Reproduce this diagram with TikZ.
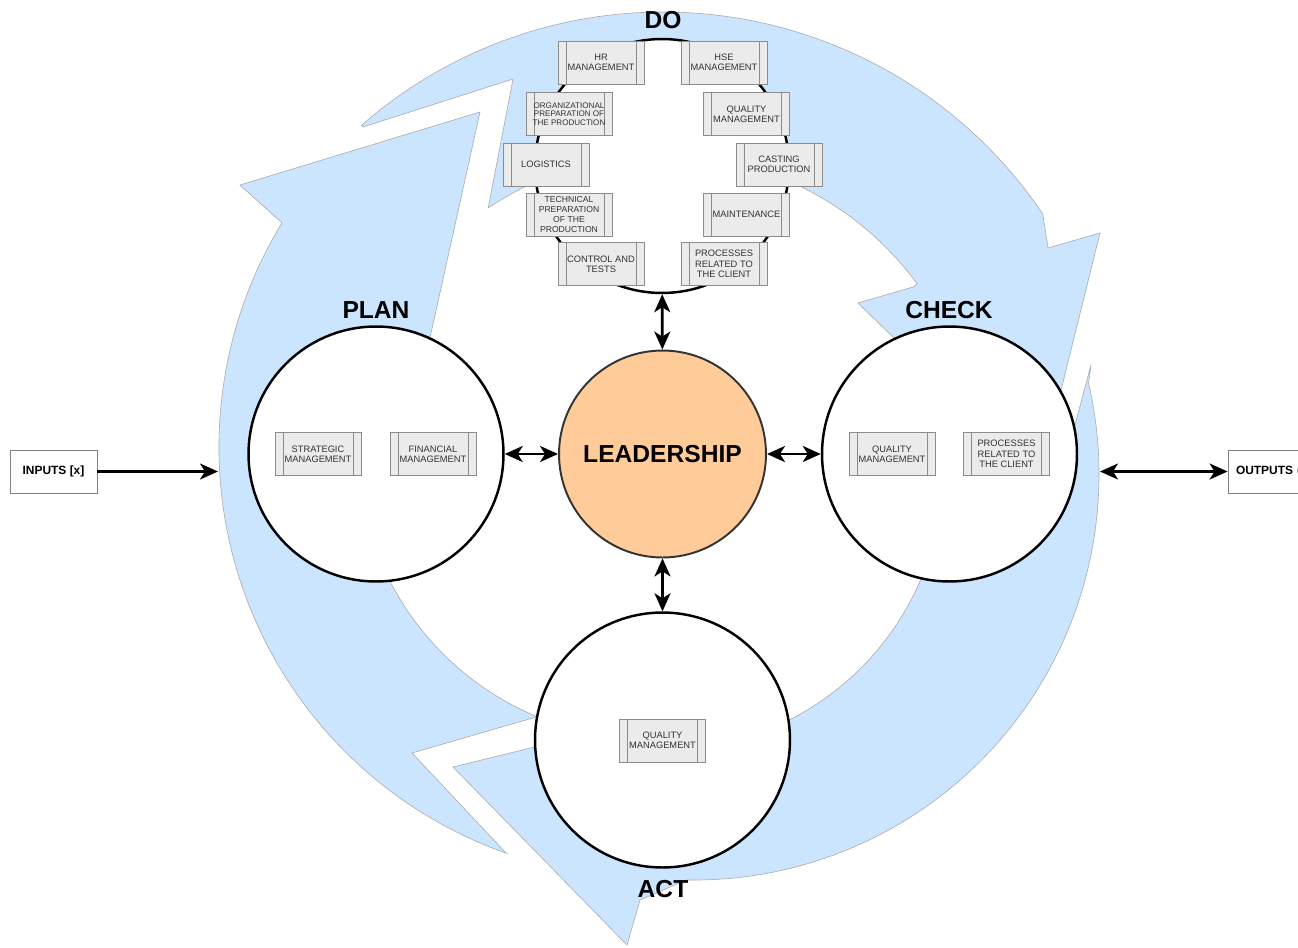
\documentclass[tikz,border=0pt]{standalone}
\usepackage{fontspec}
\setmainfont{Liberation Sans}
\usetikzlibrary{arrows.meta}
\definecolor{cycleblue}{HTML}{CCE5FF}
\definecolor{leadorange}{HTML}{FFCC99}
\definecolor{boxgray}{HTML}{EBEBEB}
\definecolor{boxline}{HTML}{8C8C8C}
\definecolor{textgray}{HTML}{333333}
\tikzset{
  cyclearrow/.style={fill=cycleblue, draw=gray!65, line width=0.35pt},
  phase/.style={circle, draw=black, line width=1.4pt, fill=white, minimum size=5.1cm, inner sep=0pt},
  phaselabel/.style={font=\fontsize{14}{16}\selectfont\bfseries},
  procbox/.style={draw=boxline, fill=boxgray, line width=0.5pt, minimum width=1.72cm, minimum height=0.86cm,
    inner sep=0pt, align=center, text=textgray, font=\fontsize{5.3}{5.9}\selectfont,
    path picture={\draw[boxline, line width=0.5pt]
      ([xshift=0.16cm]path picture bounding box.north west) -- ([xshift=0.16cm]path picture bounding box.south west)
      ([xshift=-0.16cm]path picture bounding box.north east) -- ([xshift=-0.16cm]path picture bounding box.south east);}},
  iobox/.style={draw=gray, fill=white, line width=0.5pt, minimum width=1.74cm, minimum height=0.86cm,
    inner sep=0pt, font=\fontsize{6.8}{8}\selectfont\bfseries},
  arr/.style={-{Stealth[length=0.36cm,width=0.32cm,inset=0.1cm]}, line width=1.5pt},
  dbl/.style={{Stealth[length=0.36cm,width=0.32cm,inset=0.1cm]}-{Stealth[length=0.36cm,width=0.32cm,inset=0.1cm]}, line width=1.5pt}
}
\begin{document}
\begin{tikzpicture}[x=0.02cm, y=-0.02cm]
  \useasboundingbox (0,0) rectangle (1298,947);
  \fill[white] (0,0) rectangle (1298,947);

  \draw[cyclearrow] (1091,365) -- (1088.6,383.3) arc[start angle=-13, end angle=91, radius=405.5] -- (640,900) -- (627,945)
    -- (453,767) -- (600,731) -- (663,750) arc[start angle=90, end angle=5, radius=280] -- (1065,462) -- cycle;
  \draw[cyclearrow] (363,127) -- (513,79) -- (488.2,207.9) arc[start angle=-123.7, end angle=-36.2, radius=315]
    -- (913,287) -- (858,303) -- (1039,479) -- (1100,233) -- (1048,248) -- (1042.7,213.9)
    arc[start angle=-34, end angle=-131.2, radius=458] -- cycle;
  \draw[cyclearrow] (506.2,853.2) -- (412,753) -- (537.1,716.7) arc[start angle=112.6, end angle=200, radius=292]
    -- (418,392) -- (480,112) -- (240,185) -- (282,222.9) arc[start angle=211.4, end angle=109.4, radius=430.5] -- cycle;

  \node[phase] (plan) at (376,454) {};
  \node[phase] (check) at (949.5,454) {};
  \node[phase] (act) at (662.5,740) {};
  \node[phase, minimum size=5.08cm] (do) at (662,166) {};
  \node[circle, draw=black!80, line width=1.1pt, fill=leadorange, minimum size=4.14cm, inner sep=0pt,
    font=\fontsize{14}{16}\selectfont\bfseries] (lead) at (662.5,454) {LEADERSHIP};

  \node[phaselabel] (planlbl) at (376,310) {PLAN};
  \node[phaselabel] (checklbl) at (949,310) {CHECK};
  \node[phaselabel] (dolbl) at (663,20) {DO};
  \node[phaselabel] (actlbl) at (663,889) {ACT};

  \foreach \nm/\px/\py/\txt in {hr/601/62.5/{HR\\MANAGEMENT}, hse/724/62.5/{HSE\\MANAGEMENT},
      qualdo/746.5/114/{QUALITY\\MANAGEMENT}, logist/546/164.5/{LOGISTICS},
      casting/779/164.5/{CASTING\\PRODUCTION}, maint/746.5/214.5/{MAINTENANCE},
      control/601/264/{CONTROL AND\\TESTS}, clientdo/724/264/{PROCESSES\\RELATED TO\\THE CLIENT}} {
    \node[procbox] (\nm) at (\px,\py) {\txt};
  }
  \node[procbox, font=\fontsize{4.6}{4.75}\selectfont] (orgprep) at (569,114) {ORGANIZATIONAL\\PREPARATION OF\\THE PRODUCTION};
  \node[procbox, font=\fontsize{4.9}{5.85}\selectfont] (techprep) at (569,214.5) {TECHNICAL\\PREPARATION\\OF THE\\PRODUCTION};

  \node[procbox] (strat) at (318,454) {STRATEGIC\\MANAGEMENT};
  \node[procbox] (finance) at (433,454) {FINANCIAL\\MANAGEMENT};
  \node[procbox] (qualcheck) at (892,454) {QUALITY\\MANAGEMENT};
  \node[procbox] (clientcheck) at (1006.5,454) {PROCESSES\\RELATED TO\\THE CLIENT};
  \node[procbox] (qualact) at (662.5,740.5) {QUALITY\\MANAGEMENT};

  \draw[dbl] (plan) -- (lead);
  \draw[dbl] (lead) -- (check);
  \draw[dbl] (do) -- (lead);
  \draw[dbl] (lead) -- (act);

  \node[iobox] (inputs) at (53.5,471.5) {INPUTS [x]};
  \coordinate (inpin) at (218,471.5);
  \draw[arr] (inputs) -- (inpin);
  \node[iobox, text width=1.42cm, align=left] (outputs) at (1271.5,471.5) {OUTPUTS (};
  \coordinate (outpin) at (1100,471.5);
  \draw[dbl] (outpin) -- (outputs);
\end{tikzpicture}
\end{document}
